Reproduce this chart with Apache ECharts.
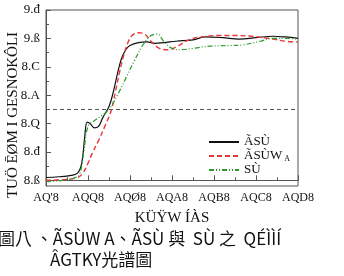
<!DOCTYPE html>
<html><head><meta charset="utf-8">
<script src="https://cdn.jsdelivr.net/npm/echarts@6/dist/echarts.min.js"></script>
<style>html,body{margin:0;padding:0;background:#fff}#c{width:344px;height:276px}</style>
</head><body><div id="c"></div>
<script>
const xTickValues = [6430, 6440, 6450, 6460, 6470, 6480, 6490];
const xTickLabels = ["AQ'8", "AQQ8", "AQØ8", "AQA8", "AQB8", "AQC8", "AQD8"];
const yTickValues = [0, 0.2, 0.4, 0.6, 0.8, 1.0, 1.2];
const yTickLabels = ["8.ß", "8.đ", "8.Q", "8.A", "8.C", "9.ß", "9.đ"];
const yMinorValues = [0.1, 0.3, 0.5, 0.7, 0.9, 1.1];
const halfLine = 0.5;

const seriesNames = ["ÃSÙ", "ÃSÙW", "SÙ"];
const blackData = [
  [6430,0.02],[6433,0.025],[6436,0.035],[6437.5,0.05],[6438.5,0.12],[6439.2,0.30],
  [6439.8,0.41],[6440.5,0.40],[6441.5,0.37],[6442.5,0.38],[6443.5,0.44],[6445,0.52],
  [6446,0.62],[6447,0.75],[6448,0.86],[6449,0.92],[6450,0.95],[6452,0.97],[6454,0.975],
  [6456,0.965],[6458,0.97],[6461,0.98],[6465,0.99],[6468,1.01],[6472,1.005],[6476,0.995],
  [6480,1.005],[6484,1.015],[6487,1.01],[6490,1.0]
];
const redData = [
  [6430,0.0],[6434,0.005],[6437,0.015],[6438.5,0.04],[6440,0.12],[6441,0.19],[6442.5,0.28],
  [6444,0.38],[6445.5,0.49],[6446.5,0.62],[6447.5,0.76],[6448.5,0.88],[6449.5,0.97],
  [6450.5,1.02],[6452,1.04],[6453.5,1.03],[6455,0.98],[6457,0.93],[6459,0.92],[6461,0.94],
  [6464,0.99],[6467,1.01],[6471,1.02],[6475,1.02],[6479,1.015],[6484,0.995],[6487,0.98],[6490,0.975]
];
const greenData = [
  [6430,-0.01],[6434,0.0],[6437,0.02],[6438,0.04],[6439,0.2],[6440,0.38],[6441.5,0.42],
  [6443,0.45],[6445,0.5],[6447,0.6],[6449,0.72],[6451,0.84],[6453,0.95],[6455,1.02],
  [6456.5,1.03],[6458,0.98],[6460,0.93],[6462,0.92],[6465,0.93],[6469,0.945],[6474,0.95],
  [6477,0.955],[6481,0.98],[6484,1.0],[6487,1.0],[6490,0.995]
];

const serif = '"Liberation Serif","DejaVu Serif",serif';
const chart = echarts.init(document.getElementById('c'), null, {renderer:'canvas'});
const axisCol = '#555';
chart.setOption({
  animation:false,
  backgroundColor:'#fff',
  grid:{left:46,right:46,top:10,bottom:90,show:true,borderColor:axisCol,borderWidth:1,
    containLabel:false,outerBoundsMode:'none'},
  xAxis:{type:'value',min:6430,max:6490,interval:10,
    axisLine:{lineStyle:{color:axisCol}},
    axisTick:{inside:true,length:5,lineStyle:{color:axisCol}},
    minorTick:{show:true,splitNumber:2,length:3,lineStyle:{color:axisCol}},
    splitLine:{show:false},
    axisLabel:{color:'#111',fontFamily:serif,fontSize:12,margin:6,
      formatter:v=>{const i=xTickValues.indexOf(v);return i>=0?xTickLabels[i]:'';}},
    name:'KÜŸW ÍÀS',nameLocation:'middle',nameGap:25,
    nameTextStyle:{color:'#111',fontFamily:serif,fontSize:15}},
  yAxis:[{type:'value',min:-0.04,max:1.2,
    axisLine:{lineStyle:{color:axisCol}},
    axisTick:{inside:true,length:5,customValues:yTickValues,lineStyle:{color:axisCol}},
    splitLine:{show:false},
    axisLabel:{color:'#111',fontFamily:serif,fontSize:13,margin:6,customValues:yTickValues,
      formatter:v=>{let i=-1;yTickValues.forEach((t,k)=>{if(Math.abs(t-v)<1e-6)i=k;});return i>=0?yTickLabels[i]:'';}}},
   {type:'value',min:-0.04,max:1.2,position:'left',
    axisLine:{show:false},axisLabel:{show:false},splitLine:{show:false},
    axisTick:{show:true,inside:true,length:3,customValues:yMinorValues,lineStyle:{color:axisCol}}}
  ],
  legend:{orient:'vertical',left:203,top:130,itemWidth:30,itemHeight:8,itemGap:0,
    itemStyle:{opacity:0},
    textStyle:{fontFamily:serif,fontSize:13,lineHeight:14,color:'#111',
      rich:{sub:{fontSize:8,verticalAlign:'bottom',padding:[6,0,0,2],fontFamily:serif,color:'#111'}}},
    formatter:n=>n===seriesNames[1]?n+'{sub|A}':n,
    data:seriesNames},
  series:[
    {name:seriesNames[0],type:'line',data:blackData,smooth:0.4,symbol:'none',
     lineStyle:{color:'#111',width:1.2,type:'solid'},itemStyle:{color:'#111'},
     markLine:{silent:true,symbol:'none',label:{show:false},
       lineStyle:{color:'#555',type:[4,3],width:1},data:[{yAxis:halfLine}]}},
    {name:seriesNames[1],type:'line',data:redData,smooth:0.4,symbol:'none',
     lineStyle:{color:'#e83838',width:1.4,type:[5,3]},itemStyle:{color:'#e83838'}},
    {name:seriesNames[2],type:'line',data:greenData,smooth:0.4,symbol:'none',
     lineStyle:{color:'#2a9a2a',width:1.2,type:[5,2,1,2,1,2]},itemStyle:{color:'#2a9a2a'}}
  ],
  graphic:[
    {type:'text',x:13,y:115,rotation:Math.PI/2,style:{text:'TUÖ ĒØM I GESNOKÔLI',
      font:'15px '+serif,fill:'#111',align:'center',verticalAlign:'middle'}},
    {type:'text',left:-2,top:230,style:{text:'圖八 、ÃSÙW A、ÃSÙ 與  SÙ 之  QÉÌÌÍ',
      font:'17px "Noto Sans CJK TC",'+serif,fill:'#111'}},
    {type:'text',left:50,top:251,style:{text:'ÂGTKY光譜圖',font:'17px "Noto Sans CJK TC",'+serif,fill:'#111'}}
  ]
});
</script></body></html>
